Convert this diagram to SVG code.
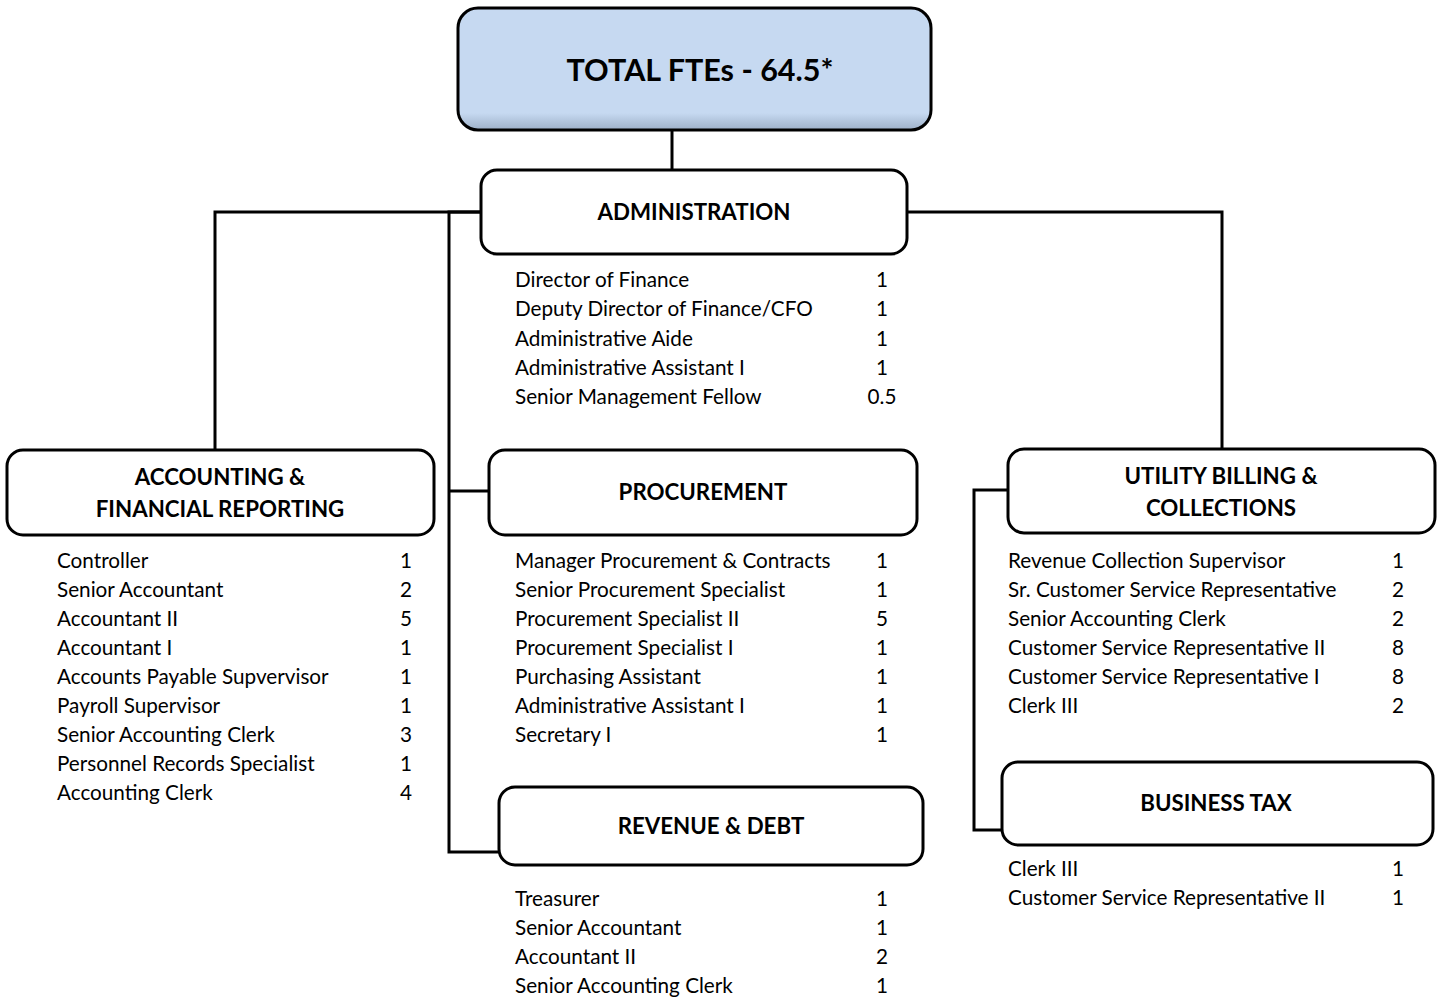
<svg xmlns="http://www.w3.org/2000/svg" width="1440" height="1000" viewBox="0 0 1440 1000">
<defs>
<linearGradient id="topfill" x1="0" y1="0" x2="0" y2="1">
<stop offset="0" stop-color="#C6D9F1"/>
<stop offset="0.86" stop-color="#C6D9F1"/>
<stop offset="1" stop-color="#9DB0C8"/>
</linearGradient>
<style>
.box{fill:#FFFFFF;stroke:#000;stroke-width:3}
.top{fill:url(#topfill);stroke:#000;stroke-width:3}
.conn{fill:none;stroke:#000;stroke-width:3}
.hd{font-family:Lato,"Liberation Sans",sans-serif;font-weight:bold;font-size:22.3px;text-anchor:middle;fill:#000}
.ttl{font-family:Lato,"Liberation Sans",sans-serif;font-weight:bold;font-size:30.5px;text-anchor:middle;fill:#000}
.it{font-family:Lato,"Liberation Sans",sans-serif;font-size:20.7px;fill:#000}
.n{text-anchor:middle}
</style>
</defs>
<rect width="1440" height="1000" fill="#FFFFFF"/>
<g id="connectors">
<line class="conn" x1="672" y1="130" x2="672" y2="170"/>
<polyline class="conn" points="481,212 215,212 215,450"/>
<polyline class="conn" points="907,212 1222,212 1222,449"/>
<polyline class="conn" points="481,212 449,212 449,852 499,852"/>
<line class="conn" x1="449" y1="491" x2="489" y2="491"/>
<polyline class="conn" points="1008,490 974,490 974,830 1002,830"/>
</g>
<g id="total">
<rect class="top" x="458" y="8" width="473" height="122" rx="20"/>
<text class="ttl" x="700" y="81">TOTAL FTEs - 64.5*</text>
</g>
<g id="administration">
<rect class="box" x="481" y="170" width="426" height="84" rx="16"/>
<text class="hd" x="694" y="220">ADMINISTRATION</text>
<g class="it">
<text x="515" y="287">Director of Finance</text><text class="n" x="882" y="287">1</text>
<text x="515" y="316">Deputy Director of Finance/CFO</text><text class="n" x="882" y="316">1</text>
<text x="515" y="346">Administrative Aide</text><text class="n" x="882" y="346">1</text>
<text x="515" y="375">Administrative Assistant I</text><text class="n" x="882" y="375">1</text>
<text x="515" y="404">Senior Management Fellow</text><text class="n" x="882" y="404">0.5</text>
</g>
</g>
<g id="accounting">
<rect class="box" x="7" y="450" width="427" height="85" rx="16"/>
<text class="hd" x="220" y="485">ACCOUNTING &amp;</text>
<text class="hd" x="220" y="517">FINANCIAL REPORTING</text>
<g class="it">
<text x="57" y="568">Controller</text><text class="n" x="406" y="568">1</text>
<text x="57" y="597">Senior Accountant</text><text class="n" x="406" y="597">2</text>
<text x="57" y="626">Accountant II</text><text class="n" x="406" y="626">5</text>
<text x="57" y="655">Accountant I</text><text class="n" x="406" y="655">1</text>
<text x="57" y="684">Accounts Payable Supvervisor</text><text class="n" x="406" y="684">1</text>
<text x="57" y="713">Payroll Supervisor</text><text class="n" x="406" y="713">1</text>
<text x="57" y="742">Senior Accounting Clerk</text><text class="n" x="406" y="742">3</text>
<text x="57" y="771">Personnel Records Specialist</text><text class="n" x="406" y="771">1</text>
<text x="57" y="800">Accounting Clerk</text><text class="n" x="406" y="800">4</text>
</g>
</g>
<g id="procurement">
<rect class="box" x="489" y="450" width="428" height="85" rx="16"/>
<text class="hd" x="703" y="500">PROCUREMENT</text>
<g class="it">
<text x="515" y="568">Manager Procurement &amp; Contracts</text><text class="n" x="882" y="568">1</text>
<text x="515" y="597">Senior Procurement Specialist</text><text class="n" x="882" y="597">1</text>
<text x="515" y="626">Procurement Specialist II</text><text class="n" x="882" y="626">5</text>
<text x="515" y="655">Procurement Specialist I</text><text class="n" x="882" y="655">1</text>
<text x="515" y="684">Purchasing Assistant</text><text class="n" x="882" y="684">1</text>
<text x="515" y="713">Administrative Assistant I</text><text class="n" x="882" y="713">1</text>
<text x="515" y="742">Secretary I</text><text class="n" x="882" y="742">1</text>
</g>
</g>
<g id="revenue">
<rect class="box" x="499" y="787" width="424" height="78" rx="16"/>
<text class="hd" x="711" y="834">REVENUE &amp; DEBT</text>
<g class="it">
<text x="515" y="906">Treasurer</text><text class="n" x="882" y="906">1</text>
<text x="515" y="935">Senior Accountant</text><text class="n" x="882" y="935">1</text>
<text x="515" y="964">Accountant II</text><text class="n" x="882" y="964">2</text>
<text x="515" y="993">Senior Accounting Clerk</text><text class="n" x="882" y="993">1</text>
</g>
</g>
<g id="utility">
<rect class="box" x="1008" y="449" width="427" height="84" rx="16"/>
<text class="hd" x="1221" y="484">UTILITY BILLING &amp;</text>
<text class="hd" x="1221" y="516">COLLECTIONS</text>
<g class="it">
<text x="1008" y="568">Revenue Collection Supervisor</text><text class="n" x="1398" y="568">1</text>
<text x="1008" y="597">Sr. Customer Service Representative</text><text class="n" x="1398" y="597">2</text>
<text x="1008" y="626">Senior Accounting Clerk</text><text class="n" x="1398" y="626">2</text>
<text x="1008" y="655">Customer Service Representative II</text><text class="n" x="1398" y="655">8</text>
<text x="1008" y="684">Customer Service Representative I</text><text class="n" x="1398" y="684">8</text>
<text x="1008" y="713">Clerk III</text><text class="n" x="1398" y="713">2</text>
</g>
</g>
<g id="businesstax">
<rect class="box" x="1002" y="762" width="431" height="83" rx="16"/>
<text class="hd" x="1216" y="811">BUSINESS TAX</text>
<g class="it">
<text x="1008" y="876">Clerk III</text><text class="n" x="1398" y="876">1</text>
<text x="1008" y="905">Customer Service Representative II</text><text class="n" x="1398" y="905">1</text>
</g>
</g>
</svg>
